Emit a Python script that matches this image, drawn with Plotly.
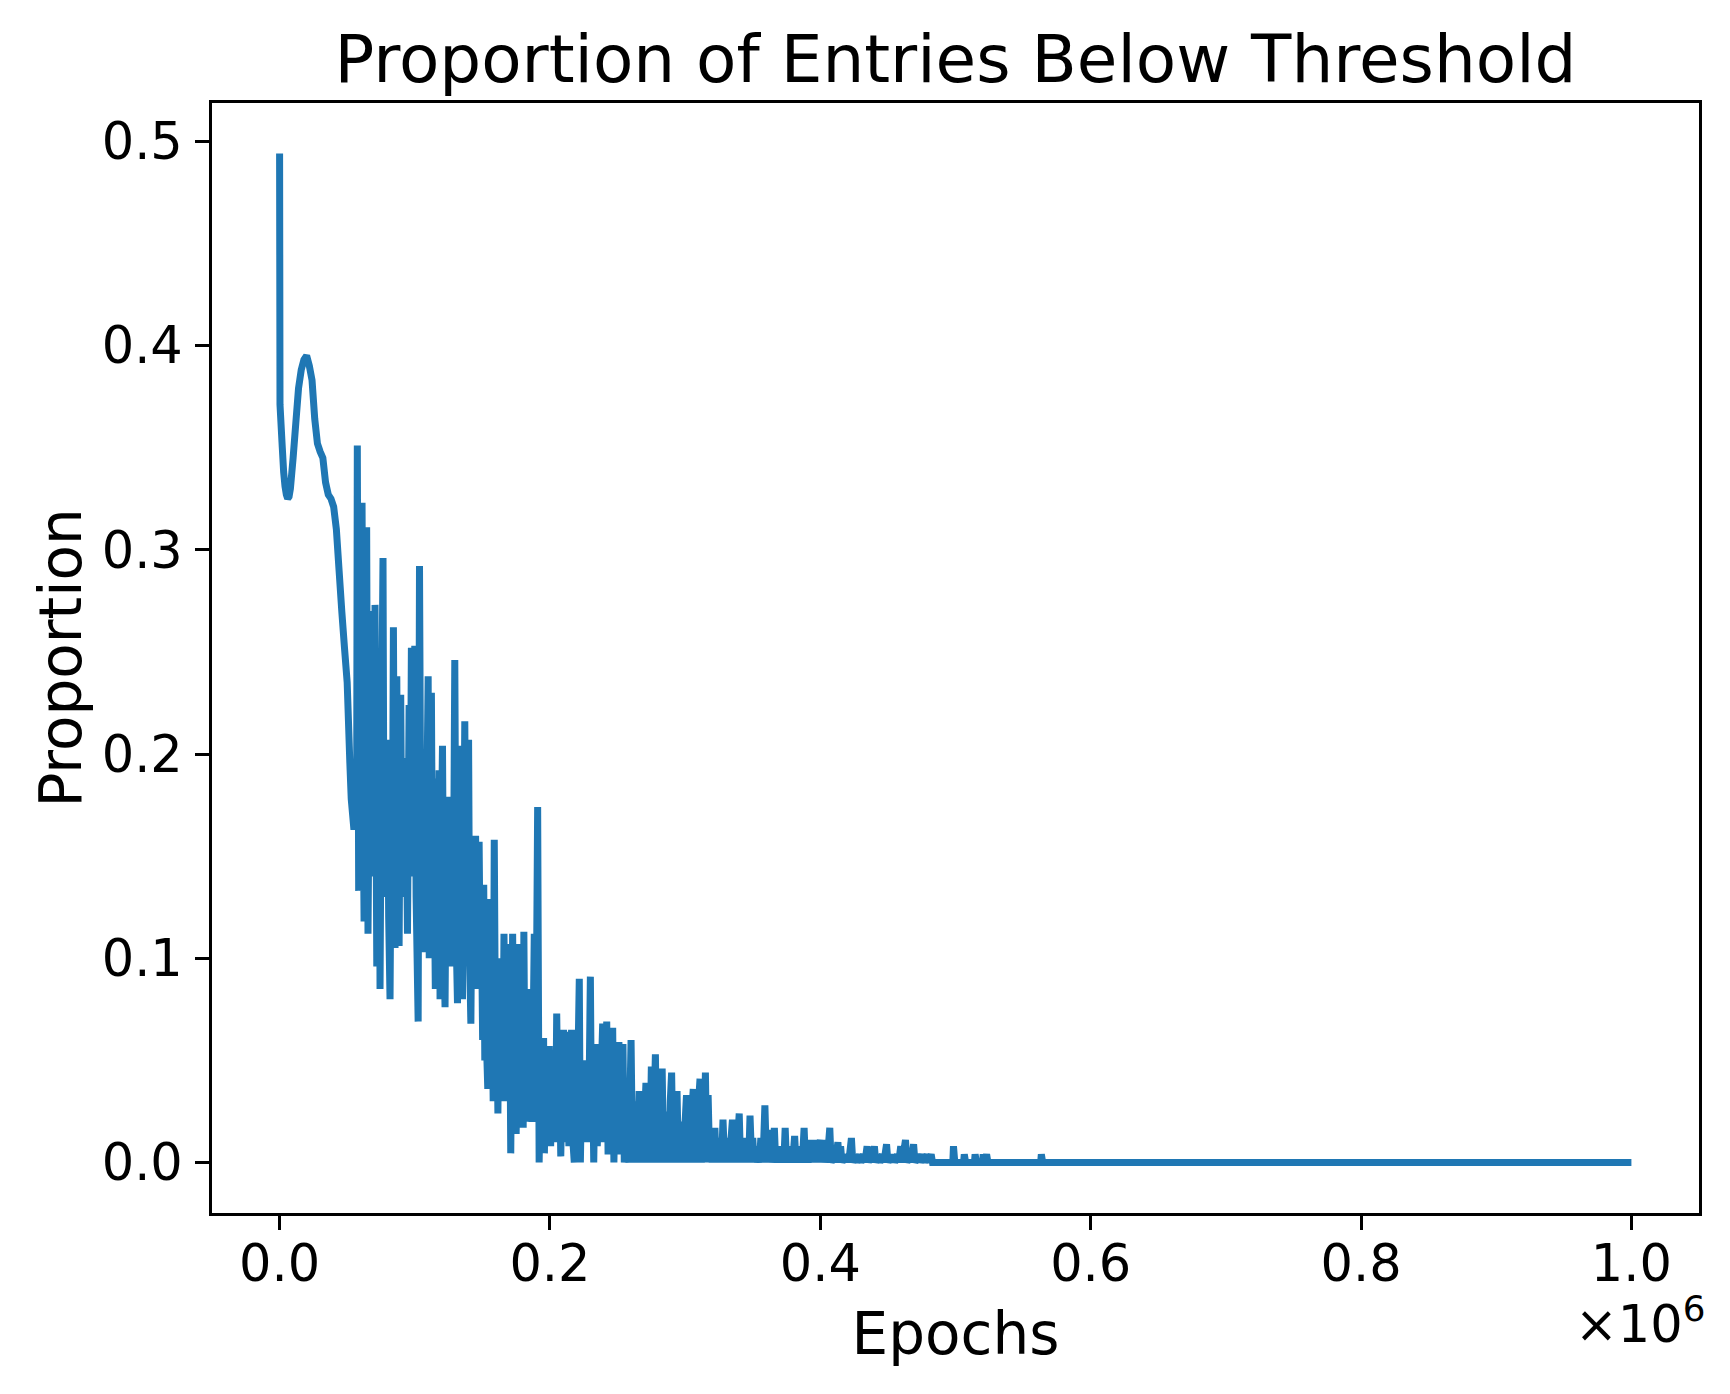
import plotly.graph_objects as go

WARMUP = [
    (0, 0.494), (0.3, 0.371), (2, 0.350), (3, 0.338), (4, 0.331), (5, 0.327),
    (6, 0.325), (7, 0.326), (8, 0.330), (10, 0.345), (12, 0.362), (14, 0.379),
    (16, 0.388), (18, 0.393), (20, 0.395), (22, 0.390), (24, 0.383), (26, 0.364),
    (28, 0.352), (30, 0.348), (32, 0.345), (34, 0.333), (36, 0.327), (38, 0.325),
    (40, 0.321), (42, 0.310), (44, 0.290), (46, 0.270), (48, 0.252), (50, 0.235),
    (52, 0.195), (53, 0.178), (55, 0.163),
]

SPIKY = [
    (57, 0.175), (57.5, 0.351), (58.5, 0.133), (59.5, 0.26), (60.2, 0.165), (61, 0.323),
    (62, 0.16), (62.5, 0.118), (63.5, 0.21), (64.4, 0.311), (65.4, 0.112), (66.3, 0.19),
    (67.4, 0.270), (68.3, 0.15), (69.3, 0.22), (70, 0.14), (70.6, 0.273), (71.9, 0.096),
    (72.8, 0.18), (73.6, 0.232), (74.3, 0.085), (75.3, 0.20), (76.5, 0.296), (77.3, 0.130),
    (78.2, 0.18), (78.9, 0.14), (79.8, 0.207), (80.7, 0.12), (81.7, 0.080), (82.6, 0.17),
    (83.3, 0.13), (84.2, 0.262), (85.4, 0.105), (86.7, 0.238), (87.5, 0.13), (88.4, 0.106),
    (89.6, 0.229), (90.5, 0.14), (91.2, 0.18), (92, 0.198), (93, 0.13), (93.8, 0.17),
    (94.6, 0.112), (95.8, 0.224), (96.6, 0.15), (97.5, 0.252), (98.3, 0.14), (99.2, 0.19),
    (100, 0.253), (101, 0.13), (102.5, 0.069), (103.5, 0.292), (104.5, 0.15), (105.3, 0.18),
    (106, 0.103), (106.8, 0.198), (107.8, 0.13), (108.8, 0.17), (109.9, 0.238), (110.7, 0.100),
    (111.5, 0.17), (112.3, 0.230), (113.2, 0.12), (114.2, 0.16), (115.2, 0.085), (115.9, 0.188),
    (116.8, 0.12), (118, 0.192), (118.7, 0.080), (119.5, 0.15), (120.5, 0.204), (121.4, 0.11),
    (122.4, 0.076), (123.2, 0.15), (124, 0.179), (125, 0.11), (125.8, 0.15), (126.7, 0.096),
    (127.6, 0.16), (128.5, 0.12), (129.6, 0.246), (130.6, 0.11), (131.6, 0.078), (132.6, 0.15),
    (133.6, 0.204), (134.4, 0.12), (135.3, 0.080), (136.2, 0.15), (137, 0.216), (138, 0.11),
    (138.9, 0.14), (139.8, 0.207), (140.6, 0.10), (141.5, 0.068), (142.4, 0.14), (143.2, 0.10),
    (144.1, 0.13), (145, 0.160), (145.8, 0.10), (146.4, 0.085), (147.6, 0.157), (148.5, 0.09),
    (149.3, 0.12), (150.2, 0.06), (151, 0.136), (151.8, 0.05), (152.6, 0.110), (153.4, 0.05),
    (154, 0.036), (155, 0.129), (156, 0.06), (157, 0.09), (158, 0.030), (158.8, 0.158),
    (159.8, 0.05), (160.6, 0.08), (161.5, 0.024), (162.5, 0.100), (163.4, 0.04), (164.2, 0.08),
    (165, 0.03), (166, 0.112), (167, 0.04), (168, 0.09), (169, 0.03), (170, 0.107),
    (171, 0.0045), (172.4, 0.112), (173.4, 0.03), (174.2, 0.07), (175, 0.014), (176, 0.06),
    (177.3, 0.107), (178.2, 0.03), (179.3, 0.085), (180.2, 0.017), (180.7, 0.113), (181.6, 0.03),
    (182.6, 0.06), (183.6, 0.02), (184.7, 0.085), (185.6, 0.03), (186.7, 0.020), (187.5, 0.06),
    (188.4, 0.112), (189.4, 0.03), (190.9, 0.174), (192, 0.0), (193, 0.04), (194, 0.015),
]

DECAY = [
    (195.3, 0.061), (195.9, 0.0045), (196.8, 0.05), (197.7, 0.01), (198.6, 0.04), (199.5, 0.057),
    (200.5, 0.008), (201.4, 0.045), (202.3, 0.015), (203.2, 0.04), (204.1, 0.01), (205, 0.073),
    (206, 0.02), (207, 0.05), (208, 0.003), (209, 0.04), (210, 0.065), (211, 0.01),
    (212, 0.05), (213, 0.064), (214, 0.008), (215, 0.04), (216, 0.065), (217, 0.01),
    (218, 0.0), (219, 0.045), (220, 0.02), (221.7, 0.090), (222.5, 0.0), (223.5, 0.04),
    (224.5, 0.01), (225.5, 0.05), (226.5, 0.015), (227.5, 0.035), (228.5, 0.01), (229.9, 0.091),
    (230.8, 0.012), (231.6, 0.04), (232.4, 0.0), (233.2, 0.035), (234, 0.058), (235, 0.008),
    (236, 0.03), (237, 0.012), (238, 0.045), (239, 0.068), (240, 0.01), (241, 0.035),
    (242, 0.069), (243, 0.004), (244, 0.04), (245, 0.015), (246.4, 0.066), (247.3, 0.0),
    (248.2, 0.03), (249, 0.008), (250, 0.049), (251, 0.059), (252, 0.004), (253, 0.03),
    (254, 0.058), (255, 0.0), (256, 0.025), (257, 0.008), (258.5, 0.0), (259.3, 0.035),
    (260, 0.060), (261, 0.004), (262, 0.03), (263, 0.0), (264, 0.02), (265, 0.008),
    (266, 0.035), (267, 0.0), (268, 0.025), (269, 0.004), (270, 0.02), (271, 0.039),
    (272, 0.0), (273, 0.02), (274, 0.004), (275, 0.047), (276, 0.0), (277, 0.025),
    (278, 0.053), (279, 0.004), (280, 0.02), (281, 0.0), (282, 0.03), (283, 0.046),
    (284, 0.0), (285, 0.02), (286, 0.004), (287, 0.025), (288, 0.0), (289, 0.03),
    (290, 0.044), (291, 0.0), (292, 0.02), (293, 0.004), (294, 0.035), (295, 0.0),
    (296, 0.015), (297, 0.004), (298, 0.02), (299, 0.0), (300, 0.02), (301, 0.033),
    (302, 0.0), (303, 0.02), (304, 0.004), (305, 0.025), (306, 0.036), (307, 0.0),
    (308, 0.015), (309, 0.004), (310, 0.03), (311, 0.041), (312, 0.0), (313, 0.02),
    (314, 0.004), (315, 0.044), (316, 0.0), (317, 0.033), (318, 0.004), (319, 0.012),
    (320, 0.0), (321, 0.008), (322, 0.017), (323, 0.0), (324, 0.008), (325, 0.004),
    (326, 0.012), (327, 0.0), (328, 0.021), (329, 0.004), (330, 0.012), (331, 0.0),
    (332, 0.008), (333, 0.0), (334, 0.012), (335, 0.021), (336, 0.0), (337, 0.008),
    (338, 0.0), (339, 0.012), (340, 0.024), (341, 0.0), (342, 0.008), (343, 0.004),
    (344, 0.012), (345, 0.0), (346, 0.008), (347, 0.0), (348, 0.023), (349, 0.004),
    (350, 0.012), (351, 0.0), (352, 0.008), (353, 0.0), (354, 0.004), (355, 0.0),
    (356, 0.012), (357, 0.0), (358, 0.008), (359, 0.028), (360, 0.004), (361, 0.016),
    (362, 0.0), (363, 0.008), (364, 0.0), (365, 0.004), (366, 0.017), (367, 0.0),
    (368, 0.008), (369, 0.0), (370, 0.004), (371, 0.0), (372, 0.008), (373, 0.0),
    (374, 0.017), (375, 0.0), (376, 0.004), (377, 0.0), (378, 0.008), (379, 0.0),
    (380, 0.004), (381, 0.013), (382, 0.0), (383, 0.004), (384, 0.0), (385, 0.008),
    (386, 0.0), (387, 0.004), (388, 0.017), (389, 0.0), (390, 0.008), (391, 0.0),
    (392, 0.004), (393, 0.011), (394, 0.0), (395, 0.011), (396, 0.004), (397, 0.011),
    (398, 0.0), (399, 0.008), (400, 0.011), (401, 0.0), (402, 0.011), (403, 0.0),
]

TAIL = [
    (404, 0.004), (405, 0.0), (407, 0.017), (408, 0.0), (410, 0.004), (411, 0.0),
    (413, 0.010), (414, 0.0), (415, 0.008), (416, 0.0), (418, 0.004), (419, 0.0),
    (420, 0.004), (421, 0.0), (423, 0.012), (424, 0.0), (426, 0.004), (427, 0.0),
    (429, 0.004), (430, 0.0), (432, 0.004), (433, 0.0), (434.6, 0.008), (435.5, 0.0),
    (437, 0.004), (438, 0.0), (440, 0.008), (441, 0.0), (443, 0.004), (444, 0.0),
    (446, 0.004), (447, 0.0), (449, 0.009), (450, 0.0), (452, 0.004), (453, 0.0),
    (454, 0.004), (455, 0.0), (457, 0.004), (458, 0.0), (459.5, 0.008), (460.5, 0.0),
    (463, 0.011), (464, 0.0), (466, 0.004), (467, 0.0), (469, 0.009), (470, 0.0),
    (473, 0.004), (474, 0.0), (476, 0.004), (477, 0.0), (479, 0.004), (480, 0.0),
    (482, 0.004), (483, 0.0), (498, 0.0), (498.5, 0.008), (499.5, 0.0), (506, 0.0),
    (506.5, 0.004), (507.5, 0.0), (514, 0.0), (514.5, 0.004), (515.5, 0.0), (520, 0.0),
    (520.5, 0.004), (521.5, 0.0), (523, 0.004), (524, 0.0), (563, 0.0), (563.5, 0.004),
    (564.5, 0.0), (1000, 0.0),
]

X_TICKS = [0, 200000, 400000, 600000, 800000, 1000000]
X_TICK_TEXT = ["0.0", "0.2", "0.4", "0.6", "0.8", "1.0"]
Y_TICKS = [0.0, 0.1, 0.2, 0.3, 0.4, 0.5]
Y_TICK_TEXT = ["0.0", "0.1", "0.2", "0.3", "0.4", "0.5"]

points = WARMUP + SPIKY + DECAY + TAIL
epochs = [e * 1000 for e, _ in points]
proportion = [p for _, p in points]

FONT = "DejaVu Sans"

fig = go.Figure()
fig.add_trace(go.Scatter(
    x=epochs,
    y=proportion,
    mode='lines',
    line=dict(color='#1f77b4', width=7, simplify=False),
    showlegend=False,
))

axis_style = dict(
    showline=True, linecolor='black', linewidth=3, mirror=True,
    ticks='outside', ticklen=14, tickwidth=3, tickcolor='black',
    showgrid=False, zeroline=False,
    tickfont=dict(family=FONT, size=51, color='black'),
)

# page body has an 8px margin, so the figure is drawn 8px smaller
fig.update_layout(
    width=1722,
    height=1386,
    paper_bgcolor='white',
    plot_bgcolor='white',
    margin=dict(l=204, r=31, t=95, b=181),
    title=dict(
        text="Proportion of Entries Below Threshold",
        font=dict(family=FONT, size=66, color='black'),
        x=0.5, xanchor='center', xref='paper',
        y=1, yanchor='bottom', yref='paper',
        pad=dict(b=21),
    ),
    xaxis=dict(
        range=[-50000, 1050000],
        tickvals=X_TICKS, ticktext=X_TICK_TEXT,
        title=dict(text="Epochs", font=dict(family=FONT, size=58, color='black'), standoff=22),
        ticklabelstandoff=-10,
        **axis_style,
    ),
    yaxis=dict(
        range=[-0.0247, 0.5187],
        tickvals=Y_TICKS, ticktext=Y_TICK_TEXT,
        title=dict(text="Proportion", font=dict(family=FONT, size=58, color='black'), standoff=2),
        ticklabelstandoff=2,
        **axis_style,
    ),
)

fig.add_annotation(
    text="×10<sup>6</sup>",
    xref='paper', yref='paper',
    x=1, y=0, xanchor='right', yanchor='top',
    xshift=8, yshift=-73,
    showarrow=False,
    font=dict(family=FONT, size=51, color='black'),
)

fig.write_html("out.html")
